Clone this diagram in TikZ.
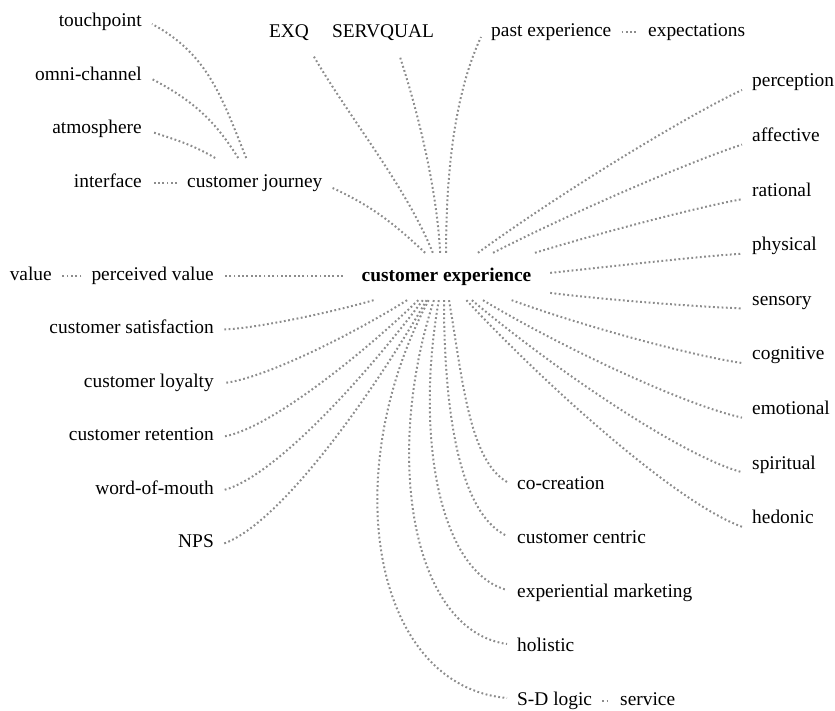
\documentclass[tikz,border=0pt]{standalone}
\usepackage{fontspec}
\setmainfont{Liberation Serif}
\definecolor{lk}{HTML}{8C8C8C}
\tikzset{
  lbl/.style={font=\fontsize{19.4pt}{23pt}\selectfont, inner xsep=10pt, inner ysep=0pt, text=black},
  lnk/.style={draw=lk, line width=2pt, dash pattern=on 1.8pt off 2.5pt},
  rlnk/.style={lnk, out looseness=0.85, in looseness=0.5},
}
\begin{document}
\begin{tikzpicture}[x=1pt,y=1pt]
\useasboundingbox (0,0) rectangle (835,711);
% centre
\node[lbl, font=\fontsize{19.4pt}{23pt}\selectfont\bfseries, minimum width=207pt, minimum height=47pt, inner sep=0pt, text height=13pt, text depth=2.5pt] (ce) at (446.5,434.5) {customer experience};
% top-left
\node[lbl, anchor=base east] (tp) at (152,684) {touchpoint};
\node[lbl, anchor=base east] (om) at (152,630.5) {omni-channel};
\node[lbl, anchor=base east] (atm) at (152,577) {atmosphere};
\node[lbl, anchor=base east] (intf) at (152,523) {interface};
\node[lbl, anchor=base west] (cj) at (177,523) {customer journey};
% top row
\node[lbl, anchor=base] (exq) at (289,673) {EXQ};
\node[lbl, anchor=base] (sq) at (383,673) {SERVQUAL};
\node[lbl, anchor=base west] (pe) at (481,674) {past experience};
\node[lbl, anchor=base west] (expc) at (638,674) {expectations};
% right column
\node[lbl, anchor=base west] (perc) at (742,624) {perception};
\node[lbl, anchor=base west] (aff) at (742,569.4) {affective};
\node[lbl, anchor=base west] (rat) at (742,514.8) {rational};
\node[lbl, anchor=base west] (phy) at (742,460.2) {physical};
\node[lbl, anchor=base west] (sen) at (742,405.6) {sensory};
\node[lbl, anchor=base west] (cog) at (742,351) {cognitive};
\node[lbl, anchor=base west] (emo) at (742,296.4) {emotional};
\node[lbl, anchor=base west] (spi) at (742,241.8) {spiritual};
\node[lbl, anchor=base west] (hed) at (742,187.2) {hedonic};
% left column
\node[lbl, anchor=base east] (pv) at (224,430) {perceived value};
\node[lbl, anchor=base east] (val) at (62,430) {value};
\node[lbl, anchor=base east] (sat) at (224,377) {customer satisfaction};
\node[lbl, anchor=base east] (loy) at (224,323.5) {customer loyalty};
\node[lbl, anchor=base east] (ret) at (224,270) {customer retention};
\node[lbl, anchor=base east] (wom) at (224,216.5) {word-of-mouth};
\node[lbl, anchor=base east] (nps) at (224,163) {NPS};
% bottom column
\node[lbl, anchor=base west] (cocr) at (507,221) {co-creation};
\node[lbl, anchor=base west] (cc) at (507,167) {customer centric};
\node[lbl, anchor=base west] (expm) at (507,113) {experiential marketing};
\node[lbl, anchor=base west] (hol) at (507,59) {holistic};
\node[lbl, anchor=base west] (sd) at (507,5) {S-D logic};
\node[lbl, anchor=base west] (svc) at (610,5) {service};

% ---- connectors ----
% top group
\draw[lnk] (ce.132) to[out=137, in=-25, looseness=1] (cj.base east);
\draw[lnk] (ce.120) to[out=112, in=-60, looseness=0.8] ([shift={(24pt,-17pt)}]exq.base);
\draw[lnk] (ce.105) to[out=93, in=-72, looseness=0.8] ([shift={(17pt,-19pt)}]sq.base);
\draw[lnk] (ce.91) to[out=90, in=-115, looseness=0.8] (pe.base west);
\draw[lnk] ([yshift=4.5pt]pe.base east) -- ([yshift=4.5pt]expc.base west);
% customer journey children
\draw[lnk] ([shift={(-8.6pt,30pt)}]cj.base) to[out=112, in=-28] ([yshift=3pt]tp.base east);
\draw[lnk] ([shift={(-16.6pt,30pt)}]cj.base) to[out=122, in=-28] ([yshift=1.5pt]om.base east);
\draw[lnk] ([shift={(-39.6pt,30pt)}]cj.base) to[out=150, in=-18] ([yshift=2pt]atm.base east);
\draw[lnk] ([yshift=4.5pt]cj.base west) -- ([yshift=4.5pt]intf.base east);
% right group
\draw[rlnk] (ce.37) to[out=36, in=205] ([yshift=-3pt]perc.base west);
\draw[rlnk] (ce.27) to[out=27, in=198] ([yshift=-3pt]aff.base west);
\draw[rlnk] (ce.15) to[out=17, in=190] ([yshift=-3pt]rat.base west);
\draw[rlnk] (ce.2) to[out=6, in=183] ([yshift=-3pt]phy.base west);
\draw[rlnk] (ce.351) to[out=-7, in=178] ([yshift=-3pt]sen.base west);
\draw[rlnk] (ce.340) to[out=-20, in=172] ([yshift=-3pt]cog.base west);
\draw[rlnk] (ce.327) to[out=-31, in=168] ([yshift=-3pt]emo.base west);
\draw[rlnk] (ce.317) to[out=-40, in=165] ([yshift=-3pt]spi.base west);
\draw[rlnk] (ce.310) to[out=-47, in=160] ([yshift=-3pt]hed.base west);
% bottom group
\draw[lnk] (ce.276) to[out=-80, in=150, out looseness=1, in looseness=0.6] ([yshift=8pt]cocr.base west);
\draw[lnk] (ce.264) to[out=-90, in=155, out looseness=1, in looseness=0.6] ([yshift=8pt]cc.base west);
\draw[lnk] (ce.252) to[out=-100, in=165, out looseness=1.2, in looseness=0.6] ([yshift=8pt]expm.base west);
\draw[lnk] (ce.242) to[out=-108, in=172, out looseness=1.2, in looseness=0.7] ([yshift=8pt]hol.base west);
\draw[lnk] (ce.233) to[out=-118, in=175, out looseness=1.25, in looseness=0.85] ([yshift=8pt]sd.base west);
\draw[lnk] ([yshift=4.5pt]sd.base east) -- ([yshift=4.5pt]svc.base west);
% left group
\draw[lnk] (ce.west) -- ([yshift=4.5pt]pv.base east);
\draw[lnk] ([yshift=4.5pt]pv.base west) -- ([yshift=4.5pt]val.base east);
\draw[rlnk] (ce.198) to[out=196, in=2] ([yshift=4.5pt]sat.base east);
\draw[rlnk] (ce.211) to[out=212, in=6] ([yshift=4.5pt]loy.base east);
\draw[rlnk] (ce.220) to[out=224, in=10] ([yshift=4.5pt]ret.base east);
\draw[rlnk] (ce.225) to[out=233, in=15] ([yshift=4.5pt]wom.base east);
\draw[rlnk] (ce.230) to[out=240, in=20] ([yshift=4.5pt]nps.base east);
\end{tikzpicture}
\end{document}
